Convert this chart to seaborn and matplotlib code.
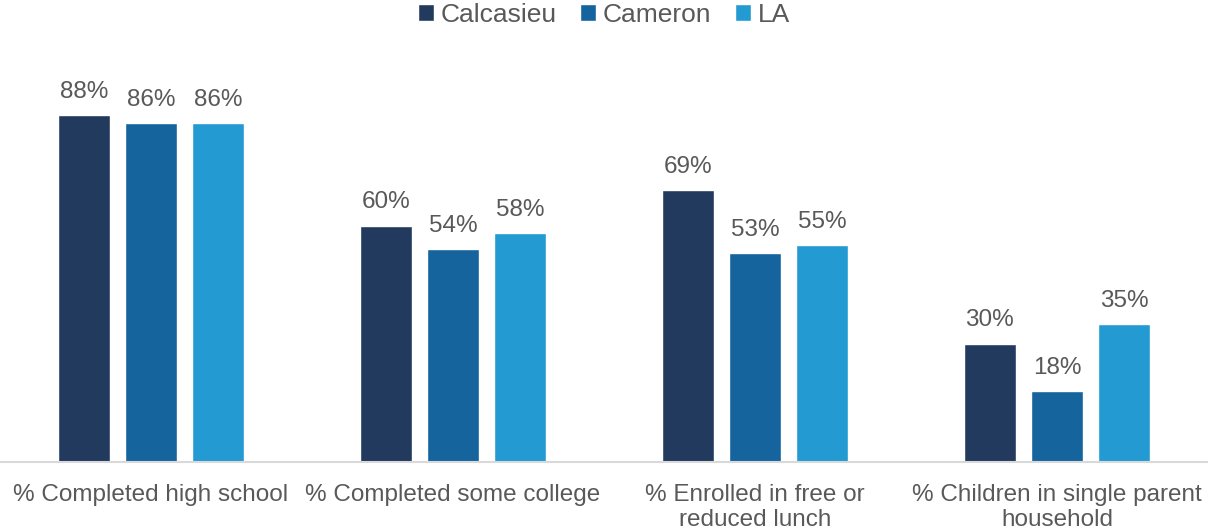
import matplotlib
matplotlib.use("Agg")
import matplotlib.pyplot as plt
import seaborn as sns
import pandas as pd

categories = [
    "% Completed high school",
    "% Completed some college",
    "% Enrolled in free or\nreduced lunch",
    "% Children in single parent\nhousehold",
]
series_names = ["Calcasieu", "Cameron", "LA"]
calcasieu = [88, 60, 69, 30]
cameron = [86, 54, 53, 18]
la = [86, 58, 55, 35]
colors = ["#223A5E", "#15649E", "#239BD2"]

rows = []
for name, vals in zip(series_names, [calcasieu, cameron, la]):
    for cat, v in zip(categories, vals):
        rows.append({"category": cat, "region": name, "value": v})
df = pd.DataFrame(rows)

sns.set_theme(style="white")
plt.rcParams["font.family"] = ["Liberation Sans", "DejaVu Sans"]
text_color = "#595959"

fig = plt.figure(figsize=(12.08, 5.29), dpi=100)
ax = fig.add_axes([0, 67 / 529, 1, (529 - 67 - 68) / 529])

sns.barplot(
    data=df, x="category", y="value", hue="region",
    order=categories, hue_order=series_names, palette=colors,
    width=0.667, gap=0.226, ax=ax, saturation=1, legend=True,
)

for container in ax.containers:
    ax.bar_label(container, labels=[f"{v:.0f}%" for v in container.datavalues],
                 padding=9, fontsize=17.5, color=text_color)

ax.set_ylim(0, 100)
ax.set_xlim(-0.5, len(categories) - 0.5)
ax.set_xlabel("")
ax.set_ylabel("")
ax.set_yticks([])
for side in ["top", "right", "left"]:
    ax.spines[side].set_visible(False)
ax.spines["bottom"].set_color("#D9D9D9")
ax.spines["bottom"].set_linewidth(1.5)
ax.tick_params(axis="x", length=0, pad=16, labelsize=17.5, labelcolor=text_color)
for lbl in ax.get_xticklabels():
    lbl.set_linespacing(1.15)

handles, labels = ax.get_legend_handles_labels()
ax.legend(handles, labels, loc="center", bbox_to_anchor=(0.5, 1.135),
          ncol=3, frameon=False, fontsize=19, labelcolor=text_color,
          handlelength=0.6, handleheight=0.6, handletextpad=0.25, columnspacing=0.9)

fig.savefig("out.png", dpi=100)
